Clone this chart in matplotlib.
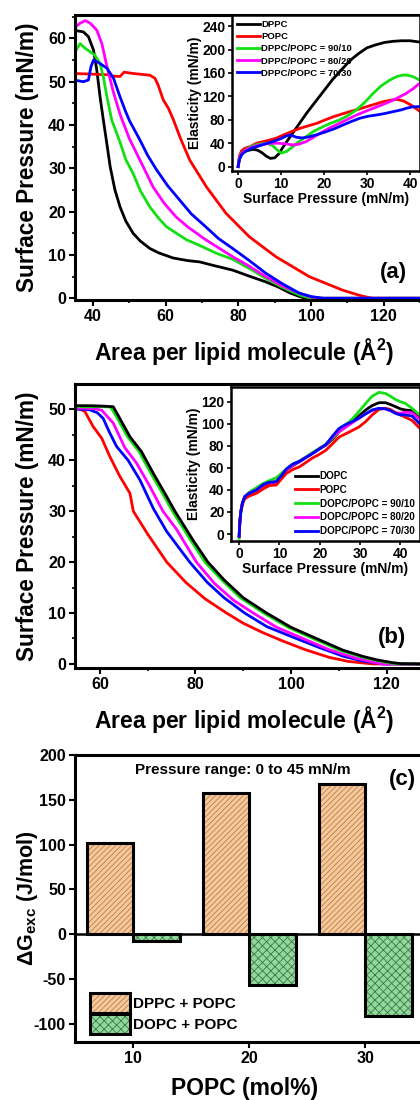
import numpy as np
import matplotlib
matplotlib.use("Agg")
import matplotlib.pyplot as plt
from matplotlib.ticker import MultipleLocator
from matplotlib.patches import Patch
from matplotlib.legend_handler import HandlerTuple

plt.rcParams['font.family'] = ['Liberation Sans', 'DejaVu Sans']
plt.rcParams['font.weight'] = 'bold'
plt.rcParams['axes.labelweight'] = 'bold'
plt.rcParams['axes.unicode_minus'] = False
plt.rcParams['mathtext.fontset'] = 'custom'
plt.rcParams['mathtext.rm'] = 'Liberation Sans:bold'
plt.rcParams['mathtext.bf'] = 'Liberation Sans:bold'
plt.rcParams['mathtext.it'] = 'Liberation Sans:bold'
plt.rcParams['hatch.linewidth'] = 0.6

# ---------------- data: (a) isotherms, DPPC/POPC ----------------
a_dppc_x = [34.6, 37.3, 38.7, 40.1, 41.0, 41.9, 42.8, 43.8, 44.7, 46.0, 47.4, 49.0, 51.0, 53.0, 55.6, 58.0,
            62.0, 66.0, 69.3, 73.0, 78.4, 83.0, 87.5, 91.0, 94.0, 96.5, 98.0, 100.0, 130.0]
a_dppc_y = [61.9, 61.5, 60.4, 57.3, 52.7, 46.5, 41.2, 35.5, 30.3, 25.0, 21.1, 17.8, 15.0, 13.2, 11.5, 10.5,
            9.3, 8.7, 8.4, 7.6, 6.5, 5.1, 3.8, 2.6, 1.3, 0.5, 0.1, 0.0, 0.0]
a_popc_x = [34.6, 38.0, 41.0, 44.0, 45.5, 47.4, 48.5, 51.0, 55.6, 57.0, 57.9, 59.3, 60.7, 62.1, 64.0, 66.6,
            71.2, 76.6, 83.0, 90.3, 99.5, 108.6, 114.0, 117.0, 130.0]
a_popc_y = [51.9, 51.8, 51.7, 51.6, 51.3, 51.2, 52.2, 51.9, 51.5, 50.8, 49.2, 45.8, 43.9, 41.2, 37.0, 31.9,
            25.7, 19.6, 14.2, 9.6, 5.0, 1.9, 0.5, 0.0, 0.0]
a_9010_x = [35.0, 36.4, 37.8, 39.2, 40.5, 41.9, 42.8, 43.8, 45.1, 47.4, 49.0, 51.0, 53.0, 55.6, 58.0, 60.2,
            65.7, 69.3, 73.9, 78.4, 83.0, 87.5, 92.0, 96.7, 99.0, 101.0, 130.0]
a_9010_y = [56.9, 58.8, 57.7, 56.9, 56.1, 54.2, 51.1, 46.5, 41.2, 36.0, 32.0, 28.8, 24.8, 21.1, 18.5, 16.5,
            13.5, 12.2, 10.4, 9.0, 6.9, 4.6, 2.6, 0.8, 0.2, 0.0, 0.0]
a_8020_x = [34.6, 36.4, 37.8, 39.2, 41.0, 42.4, 43.8, 45.6, 47.4, 48.3, 50.0, 52.0, 54.0, 56.5, 59.5, 62.8,
            66.0, 71.0, 75.0, 78.4, 83.0, 87.5, 92.0, 96.7, 100.0, 102.5, 130.0]
a_8020_y = [62.3, 63.5, 64.1, 63.5, 61.9, 58.8, 53.5, 47.5, 42.5, 40.5, 36.8, 33.4, 30.0, 25.7, 22.0, 18.8,
            16.5, 13.5, 11.4, 9.6, 7.4, 5.0, 2.9, 1.2, 0.3, 0.0, 0.0]
a_7030_x = [34.6, 37.3, 38.7, 39.4, 40.1, 41.9, 43.8, 45.6, 47.4, 48.8, 50.0, 52.9, 55.0, 57.5, 60.5, 63.8,
            67.0, 71.0, 74.5, 78.4, 83.0, 87.5, 92.0, 96.7, 100.0, 103.4, 130.0]
a_7030_y = [50.4, 50.0, 50.4, 53.5, 55.0, 54.2, 53.1, 50.8, 46.5, 43.4, 41.0, 36.5, 33.0, 29.6, 26.0, 22.7,
            19.5, 16.5, 13.8, 11.5, 8.7, 5.8, 3.4, 1.2, 0.4, 0.0, 0.0]

# ---------------- data: (a) inset, elasticity ----------------
ia_dppc_x = [0, 0.3, 0.8, 1.5, 2.5, 3.5, 4.5, 5.5, 6.5, 7.5, 8.5, 9.5, 10.5, 12, 14, 16, 18, 20, 22, 24, 26,
             28, 30, 32, 34, 36, 38, 40, 42]
ia_dppc_y = [0, 15, 23, 26, 28, 29.5, 28, 24, 18, 14, 15, 22, 34, 50, 71, 92, 111, 130, 149, 165, 181,
             193, 203, 208, 212, 214, 215, 215, 213]
ia_popc_x = [0, 0.3, 0.8, 1.5, 3, 4.3, 6, 7.4, 9, 10.5, 12.5, 14.4, 16.5, 18.3, 20, 22.2, 24, 26, 28, 29.9,
             32, 33.8, 35.5, 37, 38.5, 40.2, 42.2]
ia_popc_y = [0, 18, 27, 31, 35, 40, 43, 45.5, 49, 54, 60, 65.5, 70, 74, 79, 85.3, 89.5, 94, 98, 102.4,
             107, 111, 113.5, 115, 112, 105.3, 95]
ia_9010_x = [0, 0.3, 0.8, 1.5, 2.8, 4.5, 6.7, 8, 9, 10, 11.3, 12.7, 14, 15.8, 17.5, 19.7, 21.5, 23.6, 25.5,
             27.5, 29.5, 31.4, 33.3, 35.3, 37, 38.4, 39.5, 40.7, 42.2]
ia_9010_y = [0, 14, 22, 27, 34, 38, 40, 36, 29, 23, 26, 34, 42, 51, 60, 68, 74, 79.7, 87,
             96.8, 110, 125, 138, 148, 154, 156.5, 156, 153.6, 148]
ia_8020_x = [0, 0.3, 0.8, 1.5, 3, 5, 7, 9, 11, 12.7, 14, 15.8, 17.5, 19.7, 21.5, 23.6, 25.5, 27.5, 29.5,
             31.4, 33.3, 35.3, 37, 39.1, 40.7, 42.2]
ia_8020_y = [0, 14, 22, 27, 33, 37, 39.5, 40, 39, 37, 38, 42.7, 50, 59.7, 67, 74, 81, 88, 94,
             99.6, 105, 111, 117, 125, 133, 142]
ia_7030_x = [0, 0.3, 0.8, 1.5, 3, 4.3, 6, 8.1, 10, 11.2, 12.2, 13.6, 15, 16.7, 18.5, 20.5, 22.5, 24.4, 26.3,
             28.3, 30.2, 32.2, 34, 36.1, 38, 39.1, 40.5, 42.2]
ia_7030_y = [0, 12, 20, 25, 31, 34, 38, 42.7, 48, 52.3, 54, 50, 49, 51.2, 55, 59.7, 65, 71.1, 77,
             82.6, 86, 88.2, 90.5, 93.9, 97, 99.6, 102, 102.5]

# ---------------- data: (b) isotherms, DOPC/POPC ----------------
b_dopc_x = [54.8, 58, 61, 62.8, 64, 66.3, 68.7, 71.2, 73.6, 75.7, 79.5, 82.6, 86, 90, 94.9, 100, 105.3,
            110.9, 115, 118, 121, 123, 127]
b_dopc_y = [50.7, 50.7, 50.6, 50.5, 48.5, 44.6, 41.7, 37.4, 33.5, 30, 24.3, 20, 16.5, 13.0, 10, 7.2, 5,
            2.7, 1.5, 0.8, 0.3, 0.05, 0]
b_9010_x = [54.8, 58, 61, 62.3, 63.5, 65.8, 68.2, 70.7, 73.1, 75.2, 79, 82, 85.5, 89.4, 94.3, 99.4, 104.6,
            110.2, 114.3, 117.5, 120, 122, 127]
b_9010_y = [50.5, 50.5, 50.5, 50.4, 48.5, 44.6, 41.7, 37.4, 33.5, 30, 24.3, 20, 16.5, 13, 10, 7.2, 5,
            2.7, 1.5, 0.8, 0.3, 0.05, 0]
b_8020_x = [54.8, 57, 59, 60.4, 62.8, 65.2, 67.7, 70.5, 73.2, 76, 80.2, 84, 88, 92.1, 97, 102.5, 108, 113,
            116.5, 119.3, 127]
b_8020_y = [50.2, 50.2, 50.1, 49.8, 47.3, 42.5, 39.4, 34.8, 30, 26.5, 20, 15.8, 12.5, 10, 7.2, 5, 2.8, 1.3,
            0.5, 0, 0]
b_7030_x = [54.8, 56.5, 57.9, 59.5, 60.7, 62, 63.5, 65.9, 68.4, 71.2, 74, 78.8, 82.5, 86, 90.3, 95, 101.1,
            106, 111, 115, 119.3, 127]
b_7030_y = [50.0, 50.0, 49.9, 49.3, 48.2, 45.5, 42.7, 40, 36.1, 30.5, 26, 20, 16, 13, 10, 7.3, 5, 3.2,
            1.5, 0.6, 0, 0]
b_popc_x = [54.8, 56, 56.9, 58.6, 60.4, 62.1, 64.2, 66.3, 67, 70, 74, 78, 82, 86.5, 90, 94, 98.3, 103,
            108, 112, 117.2, 127]
b_popc_y = [50.3, 50, 49.5, 46.6, 44.3, 40.7, 36.8, 33.5, 30, 25.5, 20, 16, 12.8, 10, 8, 6.2, 4.5, 2.8,
            1.3, 0.5, 0, 0]

# ---------------- data: (b) inset, elasticity ----------------
ib_x = [0, 0.15, 0.4, 0.8, 1.4, 2.5, 4.3, 6, 7.5, 9.2, 10.5, 11.7, 13.3, 15, 16.6, 18.2, 19.8, 21.5, 23.2,
        24.8, 26.5, 28.1, 29.7, 31.4, 33, 34.7, 36.3, 37.5, 38.8, 40, 41.2, 42.9, 44.8]
ib_dopc_y = [-2, 10, 20, 28, 33.9, 37, 40, 44, 46, 47.5, 53, 58, 62, 65.6, 69.5, 73.2, 77, 80.7, 86,
             92.8, 97.5, 101.9, 107, 112.5, 116.5, 119.1, 119.1, 117.5, 115.5, 113.5, 112.5, 111.9, 107]
ib_popc_y = [-2, 10, 20, 27, 32, 34.5, 37, 41, 44, 44.4, 50, 55, 58.5, 61, 65, 69, 72, 76, 82,
             88, 91, 94, 97, 102, 108, 113, 114, 113, 110, 108, 106, 103, 96]
ib_9010_y = [-4, 10, 20, 28, 34, 38, 42, 46, 48.5, 51, 55, 59, 63, 66.5, 70, 74, 77.5, 81.5, 87,
             93, 99, 104.5, 111, 118.5, 125, 128.5, 127.5, 125, 122, 120, 118.5, 114, 108]
ib_8020_y = [-2, 10, 20, 28, 34, 37, 40, 44.5, 46.5, 47, 53, 58, 62.5, 66, 69.5, 73, 77, 81, 88,
             93, 97, 101, 105, 109, 112, 114, 113.5, 112, 110, 109.5, 110.5, 110, 104]
ib_7030_y = [-2, 10, 20, 28, 34, 37, 40, 45, 47, 47.5, 53, 59, 63.5, 66, 69.5, 73, 77, 81, 89,
             95.8, 99.5, 102, 105, 109, 112.5, 114, 113.5, 112, 109.4, 108, 108, 107, 100]

# ---------------- data: (c) excess free energy ----------------
popc_mol = np.array([10, 20, 30])
dg_dppc = [102, 158, 168]
dg_dopc = [-8, -57, -91]

col = {'k': 'black', 'r': '#FF0000', 'g': '#12E012', 'm': '#FF00FF', 'b': '#0000FF'}

fig = plt.figure(figsize=(4.2, 11), dpi=100)


def style_main(ax):
    for s in ['left', 'bottom', 'top']:
        ax.spines[s].set_linewidth(2.2)
    ax.spines['right'].set_visible(False)
    ax.tick_params(which='major', direction='out', length=4, width=1.5, labelsize=11.5, pad=2.5)
    ax.tick_params(which='minor', direction='out', length=2.5, width=1.2)
    ax.tick_params(top=False, right=False)


def style_inset(ax):
    for s in ax.spines.values():
        s.set_linewidth(1.8)
    ax.tick_params(which='major', direction='out', length=3, width=1.2, labelsize=10, pad=1.5)
    ax.tick_params(axis='y', right=True, labelright=False)


def main_labels(ax, ylab, xlab, ylx, xly, ysize=16.3):
    ax.set_ylabel(ylab, fontsize=ysize, va='center')
    ax.yaxis.set_label_coords(ylx, 0.5)
    ax.set_xlabel(xlab, fontsize=16.5, va='center')
    ax.xaxis.set_label_coords(0.491, xly)


# ---------------- panel (a) ----------------
ax = fig.add_axes([75 / 420, 1 - 300 / 1100, 345 / 420, 285 / 1100])
ax.plot(a_dppc_x, a_dppc_y, color=col['k'], lw=2)
ax.plot(a_popc_x, a_popc_y, color=col['r'], lw=2)
ax.plot(a_9010_x, a_9010_y, color=col['g'], lw=2)
ax.plot(a_8020_x, a_8020_y, color=col['m'], lw=2)
ax.plot(a_7030_x, a_7030_y, color=col['b'], lw=2)
ax.set_xlim(35, 130)
ax.set_ylim(-0.4, 65.4)
ax.xaxis.set_major_locator(MultipleLocator(20))
ax.xaxis.set_minor_locator(MultipleLocator(10))
ax.yaxis.set_major_locator(MultipleLocator(10))
ax.yaxis.set_minor_locator(MultipleLocator(5))
style_main(ax)
main_labels(ax, 'Surface Pressure (mN/m)', 'Area per lipid molecule (Å$^2$)', -0.139, -0.179)
ax.text(0.923, 0.098, '(a)', transform=ax.transAxes, fontsize=16, ha='center', va='center')

ia = fig.add_axes([231.7 / 420, 1 - 170.7 / 1100, 187.8 / 420, 155.7 / 1100])
ia.plot(ia_dppc_x, ia_dppc_y, color=col['k'], lw=2, label='DPPC')
ia.plot(ia_popc_x, ia_popc_y, color=col['r'], lw=2, label='POPC')
ia.plot(ia_9010_x, ia_9010_y, color=col['g'], lw=2, label='DPPC/POPC = 90/10')
ia.plot(ia_8020_x, ia_8020_y, color=col['m'], lw=2, label='DPPC/POPC = 80/20')
ia.plot(ia_7030_x, ia_7030_y, color=col['b'], lw=2, label='DPPC/POPC = 70/30')
ia.set_xlim(-1.5, 42.2)
ia.set_ylim(-7, 259)
ia.xaxis.set_major_locator(MultipleLocator(10))
ia.yaxis.set_major_locator(MultipleLocator(40))
style_inset(ia)
ia.set_xlabel('Surface Pressure (mN/m)', fontsize=10, labelpad=0.5)
ia.set_ylabel('Elasticity (mN/m)', fontsize=10, labelpad=0)
ia.legend(loc='upper left', bbox_to_anchor=(0, 1), frameon=False, fontsize=6.8, handlelength=2.4,
          handletextpad=0.2, labelspacing=0.33, borderaxespad=0.25, borderpad=0.3)

# ---------------- panel (b) ----------------
bx = fig.add_axes([75 / 420, 1 - 668.3 / 1100, 345 / 420, 284 / 1100])
bx.plot(b_popc_x, b_popc_y, color=col['r'], lw=2)
bx.plot(b_7030_x, b_7030_y, color=col['b'], lw=2)
bx.plot(b_8020_x, b_8020_y, color=col['m'], lw=2)
bx.plot(b_9010_x, b_9010_y, color=col['g'], lw=2)
bx.plot(b_dopc_x, b_dopc_y, color=col['k'], lw=2)
bx.set_xlim(54.8, 127)
bx.set_ylim(-0.85, 54.9)
bx.xaxis.set_major_locator(MultipleLocator(20))
bx.xaxis.set_minor_locator(MultipleLocator(10))
bx.yaxis.set_major_locator(MultipleLocator(10))
bx.yaxis.set_minor_locator(MultipleLocator(5))
style_main(bx)
main_labels(bx, 'Surface Pressure (mN/m)', 'Area per lipid molecule (Å$^2$)', -0.139, -0.182)
bx.text(0.92, 0.11, '(b)', transform=bx.transAxes, fontsize=16, ha='center', va='center')

ib = fig.add_axes([230.7 / 420, 1 - 541 / 1100, 188.8 / 420, 154.3 / 1100])
hk, = ib.plot(ib_x, ib_dopc_y, color=col['k'], lw=2)
hg, = ib.plot(ib_x, ib_9010_y, color=col['g'], lw=2)
hm, = ib.plot(ib_x, ib_8020_y, color=col['m'], lw=2)
hr, = ib.plot(ib_x, ib_popc_y, color=col['r'], lw=2)
hb, = ib.plot(ib_x, ib_7030_y, color=col['b'], lw=2)
ib.set_xlim(-2.1, 44.75)
ib.set_ylim(-6.3, 133.6)
ib.xaxis.set_major_locator(MultipleLocator(10))
ib.yaxis.set_major_locator(MultipleLocator(20))
style_inset(ib)
ib.set_xlabel('Surface Pressure (mN/m)', fontsize=10, labelpad=0.5)
ib.set_ylabel('Elasticity (mN/m)', fontsize=10, labelpad=0)
ib.legend([hk, hr, hg, hm, hb],
          ['DOPC', 'POPC', 'DOPC/POPC = 90/10', 'DOPC/POPC = 80/20', 'DOPC/POPC = 70/30'],
          loc='lower right', bbox_to_anchor=(1.0, 0), frameon=False, fontsize=7.1, handlelength=2.3,
          handletextpad=0.2, labelspacing=0.38, borderaxespad=0.2, borderpad=0.3)

# ---------------- panel (c) ----------------
cx = fig.add_axes([75 / 420, 1 - 1041.7 / 1100, 345 / 420, 286.7 / 1100])
orange, orange_h = '#F8C89A', '#B5804F'
green, green_h = '#92D89C', '#3C7A45'
cx.bar(popc_mol - 2, dg_dppc, width=4, color=orange, edgecolor=orange_h, hatch='//////', linewidth=0)
cx.bar(popc_mol - 2, dg_dppc, width=4, fill=False, edgecolor='black', linewidth=2.2)
cx.bar(popc_mol + 2, dg_dopc, width=4, color=green, edgecolor=green_h, hatch='xxxx', linewidth=0)
cx.bar(popc_mol + 2, dg_dopc, width=4, fill=False, edgecolor='black', linewidth=2.2)
cx.axhline(0, color='black', lw=1.8, zorder=3)
cx.set_xlim(5, 34.7)
cx.set_ylim(-120, 200)
cx.set_xticks(popc_mol)
cx.yaxis.set_major_locator(MultipleLocator(50))
style_main(cx)
main_labels(cx, 'ΔG$_{\\rm exc}$ (J/mol)', 'POPC (mol%)', -0.137, -0.1615, ysize=15.5)
cx.text(0.4855, 0.948, 'Pressure range: 0 to 45 mN/m', transform=cx.transAxes, fontsize=11,
        ha='center', va='center')
cx.text(0.95, 0.913, '(c)', transform=cx.transAxes, fontsize=16, ha='center', va='center')

h1 = (Patch(facecolor=orange, edgecolor=orange_h, hatch='//////', linewidth=0),
      Patch(fill=False, edgecolor='black', linewidth=2.2))
h2 = (Patch(facecolor=green, edgecolor=green_h, hatch='xxxx', linewidth=0),
      Patch(fill=False, edgecolor='black', linewidth=2.2))
cx.legend([h1, h2], ['DPPC + POPC', 'DOPC + POPC'], handler_map={tuple: HandlerTuple(ndivide=1)},
          loc='lower left', bbox_to_anchor=(0.0435, 0.027), frameon=False, fontsize=11,
          handlelength=2.6, handleheight=1.6, handletextpad=0.2, labelspacing=0.1,
          borderaxespad=0, borderpad=0)

fig.savefig('out.png', dpi=100)
